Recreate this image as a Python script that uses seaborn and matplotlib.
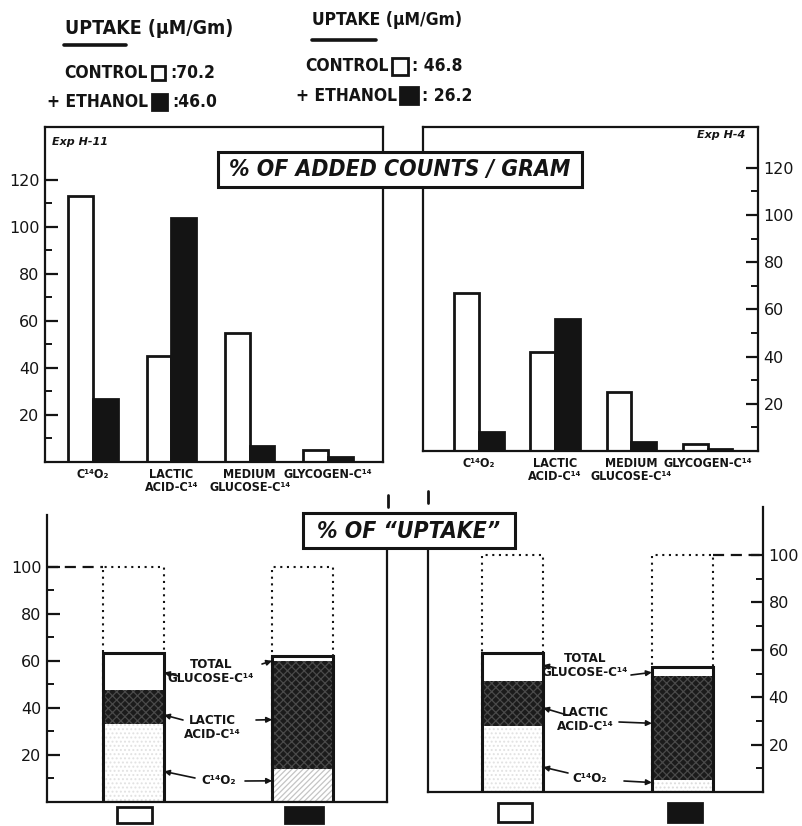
import numpy as np
import pandas as pd
import matplotlib
matplotlib.use("Agg")
import matplotlib.pyplot as plt
from matplotlib.patches import Rectangle
from matplotlib.lines import Line2D
from matplotlib.transforms import ScaledTranslation
import seaborn as sns

# ---- data -------------------------------------------------------------
fractions = ["C¹⁴O₂", "LACTIC\nACID-C¹⁴", "MEDIUM\nGLUCOSE-C¹⁴", "GLYCOGEN-C¹⁴"]
groups = ["CONTROL", "+ ETHANOL"]

# % of added counts / gram
h11_control = [113, 45, 55, 5]
h11_ethanol = [27, 104, 7, 2]
h4_control = [67, 42, 25, 3]
h4_ethanol = [8, 56, 4, 1]

# % of "uptake", stacked from the bottom: CO2, lactic acid, total glucose
h11_co2 = [33, 14]
h11_lactic = [14.5, 46]
h11_glucose = [16, 2]
h4_co2 = [28, 5]
h4_lactic = [19, 44]
h4_glucose = [11.5, 3.6]

# uptake (uM/Gm) per experiment
uptake_h11 = ["70.2", "46.0"]
uptake_h4 = ["46.8", "26.2"]

count_ticks = [20, 40, 60, 80, 100, 120]
uptake_ticks = [20, 40, 60, 80, 100]

# ---- style ------------------------------------------------------------
sns.set_theme(style="white")
INK = "#141414"
plt.rcParams.update({
    "font.family": ["DejaVu Sans"],
    "hatch.linewidth": 0.9,
    "axes.edgecolor": INK,
    "xtick.color": INK,
    "ytick.color": INK,
    "text.color": INK,
})
COND = dict(family="DejaVu Sans", fontstretch="condensed", weight="bold")

W, H = 802, 826
fig = plt.figure(figsize=(W / 100, H / 100), dpi=100)
fig.patch.set_facecolor("white")


def fx(x):
    return x / W


def fy(y):
    return 1 - y / H


def px_axes(x0, y0, x1, y1):
    return fig.add_axes([fx(x0), fy(y1), (x1 - x0) / W, (y1 - y0) / H])


def ftext(x, y, s, **kw):
    fig.text(fx(x), fy(y), s, **kw)


def fline(x0, y0, x1, y1, lw=2.0):
    fig.add_artist(Line2D([fx(x0), fx(x1)], [fy(y0), fy(y1)], lw=lw,
                          color=INK, transform=fig.transFigure))


def frect(x0, y0, x1, y1, face, lw=2.0, z=5):
    fig.add_artist(Rectangle((fx(x0), fy(y1)), (x1 - x0) / W, (y1 - y0) / H,
                             facecolor=face, edgecolor=INK, lw=lw,
                             transform=fig.transFigure, zorder=z))


def style_yaxis(ax, ticks, side):
    ax.set_yticks(ticks)
    ax.set_yticks([t - 10 for t in ticks], minor=True)
    ax.set_yticklabels([str(t) for t in ticks], fontsize=11.5)
    if side == "right":
        ax.yaxis.tick_right()
    ax.tick_params(axis="y", which="major", direction="in", length=9,
                   width=1.6, pad=4, left=(side == "left"),
                   right=(side == "right"))
    ax.tick_params(axis="y", which="minor", direction="in", length=5,
                   width=1.4, left=(side == "left"), right=(side == "right"))
    ax.set_xlabel("")
    ax.set_ylabel("")


# ---- top: % of added counts / gram --------------------------------------
palette = {groups[0]: "white", groups[1]: INK}
label_shift = [0, 0, 4, 13]   # px nudges of the category labels


def counts_panel(ax, ctrl, eth, ytop, xlim, side, bw):
    df = pd.DataFrame({
        "fraction": fractions * 2,
        "group": np.repeat(groups, len(fractions)),
        "value": ctrl + eth,
    })
    sns.barplot(data=df, x="fraction", y="value", hue="group",
                order=fractions, hue_order=groups, palette=palette,
                width=bw, gap=0, saturation=1, edgecolor=INK, linewidth=2.0,
                errorbar=None, legend=False, ax=ax)
    ax.set_xlim(*xlim)
    ax.set_ylim(0, ytop)
    ax.set_xticks(range(len(fractions)))
    labels = ax.set_xticklabels(fractions, fontsize=9, linespacing=1.0, **COND)
    for lab, dx in zip(labels, label_shift):
        lab.set_transform(lab.get_transform()
                          + ScaledTranslation(dx / 100, 0, fig.dpi_scale_trans))
    ax.tick_params(axis="x", length=0, pad=4)
    for sp in ax.spines.values():
        sp.set_linewidth(1.6)
    style_yaxis(ax, count_ticks, side)


ax1 = px_axes(45, 127, 383, 462)
counts_panel(ax1, h11_control, h11_ethanol, 142.5, (-0.61, 3.70), "left", 0.63)
ax2 = px_axes(423, 127, 758, 451)
counts_panel(ax2, h4_control, h4_ethanol, 137.3, (-0.73, 3.66), "right", 0.65)

ftext(52, 142, "Exp H-11", fontsize=8, style="italic", weight="bold",
      ha="left", va="center")
ftext(745, 135, "Exp H-4", fontsize=8, style="italic", weight="bold",
      ha="right", va="center")

# ---- bottom: % of uptake ------------------------------------------------
BW = 0.36


def uptake_panel(ax, co2, lactic, glucose, ylim_top, xlim, co2_hatch):
    lac_top = np.add(co2, lactic)
    total = lac_top + np.asarray(glucose)
    full = [100] * len(groups)

    sns.barplot(x=groups, y=full, color="white", saturation=1, width=BW,
                edgecolor=INK, linewidth=1.5, linestyle=(0, (1, 2.2)),
                errorbar=None, ax=ax)
    sns.barplot(x=groups, y=total, color="white", saturation=1, width=BW,
                linewidth=0, errorbar=None, ax=ax)
    n0 = len(ax.patches)
    sns.barplot(x=groups, y=lac_top, color="#1b1b1b", saturation=1, width=BW,
                linewidth=0, errorbar=None, ax=ax)
    for p in ax.patches[n0:]:
        p.set_hatch("xxxx")
        p.set_edgecolor("#4a4a4a")
        p.set_linewidth(0)
    n0 = len(ax.patches)
    sns.barplot(x=groups, y=co2, color="white", saturation=1, width=BW,
                linewidth=0, errorbar=None, ax=ax)
    for p, (h, c) in zip(ax.patches[n0:], co2_hatch):
        p.set_hatch(h)
        p.set_edgecolor(c)
        p.set_linewidth(0)
    sns.barplot(x=groups, y=total, color=INK, fill=False, saturation=1,
                width=BW, linewidth=2.2, errorbar=None, ax=ax)

    ax.set_xlim(*xlim)
    ax.set_ylim(0, ylim_top)
    ax.set_xticks([])
    ax.spines["top"].set_visible(False)
    for sp in ax.spines.values():
        sp.set_linewidth(1.6)


ax3 = px_axes(47, 515, 387, 802)
uptake_panel(ax3, h11_co2, h11_lactic, h11_glucose, 122, (-0.512, 1.5),
             [("....", "#e2e2e2"), ("//////", "#c4c4c4")])
style_yaxis(ax3, uptake_ticks, "left")
ax3.spines["right"].set_bounds(0, 107)
ax3.hlines(100, ax3.get_xlim()[0], 0 - BW / 2, colors=INK, lw=1.6,
           linestyles=(0, (5, 3)))

ax4 = px_axes(428, 507, 763, 792)
uptake_panel(ax4, h4_co2, h4_lactic, h4_glucose, 120.3, (-0.497, 1.474),
             [("....", "#e2e2e2"), ("....", "#dcdcdc")])
style_yaxis(ax4, uptake_ticks, "right")
ax4.spines["left"].set_bounds(0, 109)
ax4.hlines(100, 1 + BW / 2, ax4.get_xlim()[1], colors=INK, lw=1.6,
           linestyles=(0, (5, 3)))

# labels with arrows pointing at the stacked segments
lab_kw = dict(fontsize=9.5, ha="center", va="center", linespacing=1.1, **COND)
arrow_kw = dict(arrowstyle="-|>", lw=1.2, color=INK, mutation_scale=8,
                shrinkA=0, shrinkB=0)


def label_set(ax, centers, tips):
    texts = ["TOTAL\nGLUCOSE-C¹⁴", "LACTIC\nACID-C¹⁴", "C¹⁴O₂"]
    for s, (cx, cy) in zip(texts, centers):
        ftext(cx, cy, s, **lab_kw)
    for (tx, ty), (sx, sy) in tips:
        ax.annotate("", xy=(tx, ty), xycoords="data",
                    xytext=(fx(sx), fy(sy)), textcoords="figure fraction",
                    arrowprops=arrow_kw)


label_set(ax3, [(211, 671), (212, 727), (219, 780)], [
    ((BW / 2, 55), (178, 676)), ((1 - BW / 2, 60), (262, 664)),
    ((BW / 2, 37), (183, 720)), ((1 - BW / 2, 35), (256, 720)),
    ((BW / 2, 13), (195, 778)), ((1 - BW / 2, 9), (245, 781)),
])
label_set(ax4, [(585, 666), (585, 720), (590, 778)], [
    ((BW / 2, 53.5), (556, 668)), ((1 - BW / 2, 50.5), (631, 675)),
    ((BW / 2, 35.5), (567, 715)), ((1 - BW / 2, 29), (619, 722)),
    ((BW / 2, 10.5), (568, 773)), ((1 - BW / 2, 4), (624, 781)),
])

# key boxes under the stacked bars
frect(117, 807, 152, 823, "white")
frect(285, 807, 323, 823, INK)
frect(498, 803, 532, 822, "white")
frect(668, 803, 702, 822, INK)

# ---- headers ------------------------------------------------------------
hdr = dict(fontsize=12.5, va="center", **COND)
ftext(65, 28, "UPTAKE (μM/Gm)", ha="left", fontsize=14, va="center", **COND)
fline(64, 45, 126, 45, lw=2.6)
ftext(148, 73, "CONTROL", ha="right", **hdr)
frect(152, 66, 165, 80, "white")
ftext(170, 73, ":" + uptake_h11[0], ha="left", **hdr)
ftext(148, 102, "+ ETHANOL", ha="right", **hdr)
frect(152, 94, 167, 110, INK)
ftext(172, 102, ":" + uptake_h11[1], ha="left", **hdr)

ftext(312, 20, "UPTAKE (μM/Gm)", ha="left", fontsize=12.5, va="center",
      **COND)
fline(312, 40, 376, 40, lw=2.6)
ftext(389, 66, "CONTROL", ha="right", **hdr)
frect(392, 58, 408, 75, "white")
ftext(412, 66, ": " + uptake_h4[0], ha="left", **hdr)
ftext(397, 96, "+ ETHANOL", ha="right", **hdr)
frect(400, 87, 418, 104, INK)
ftext(422, 96, ": " + uptake_h4[1], ha="left", **hdr)

# ---- boxed section titles ------------------------------------------------
ttl = dict(fontsize=16.5, style="italic", ha="center", va="center",
           zorder=7, **COND)
frect(218, 152, 582, 187, "white", lw=2.2, z=6)
ftext(400, 170, "% OF ADDED COUNTS / GRAM", **ttl)
frect(303, 513, 515, 548, "white", lw=2.2, z=6)
ftext(409, 531, "% OF \u201cUPTAKE\u201d", **ttl)

# short marks between the lower panels
fline(388, 495, 388, 507, lw=2)
fline(428, 491, 428, 503, lw=2)

fig.savefig("out.png", dpi=100, facecolor="white")
